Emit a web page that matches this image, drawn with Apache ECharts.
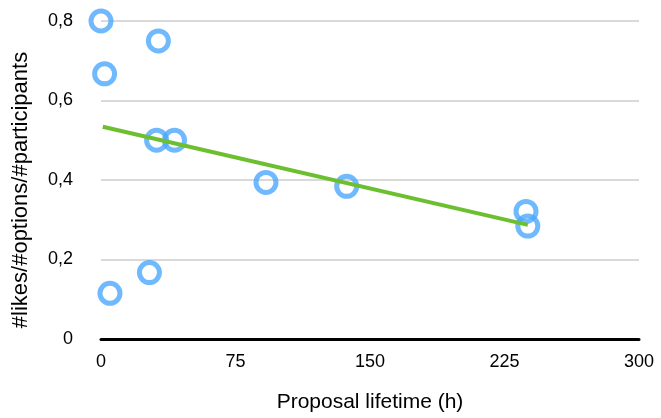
<!DOCTYPE html>
<html><head><meta charset="utf-8">
<script src="https://cdn.jsdelivr.net/npm/echarts@6/dist/echarts.min.js"></script>
<style>html,body{margin:0;padding:0;background:#fff}#c{width:661px;height:418px}</style>
</head><body><div id="c"></div>
<script>
// Data
const lifetimeHours = [0, 32, 2, 31, 41, 92, 137, 237, 238, 27, 5];
const likesRatio    = [0.8, 0.75, 0.667, 0.5, 0.5, 0.394, 0.384, 0.321, 0.284, 0.167, 0.115];
const trendX = [1, 238];
const trendY = [0.534, 0.287];
const xTicks = [0, 75, 150, 225, 300];
const yTicks = [0, 0.2, 0.4, 0.6, 0.8];

const points = lifetimeHours.map((x, i) => [x, likesRatio[i]]);
const trend = trendX.map((x, i) => [x, trendY[i]]);

const font = 'Liberation Sans, Arial, Helvetica, sans-serif';
const chart = echarts.init(document.getElementById('c'));
chart.setOption({
  animation: false,
  grid: {left: 101, right: 22, top: 21, bottom: 76},
  xAxis: {
    type: 'value', min: xTicks[0], max: xTicks[xTicks.length-1], interval: 75,
    name: 'Proposal lifetime (h)', nameLocation: 'middle', nameGap: 53,
    nameTextStyle: {fontFamily: font, fontSize: 21, color: '#000'},
    axisLine: {show: true, lineStyle: {color: '#000', width: 3}},
    axisTick: {show: false},
    splitLine: {show: false},
    axisLabel: {fontFamily: font, fontSize: 18, color: '#000', margin: 14}
  },
  yAxis: {
    type: 'value', min: yTicks[0], max: yTicks[yTicks.length-1], interval: 0.2,
    name: '#likes/#options/#participants', nameLocation: 'middle', nameGap: 69, nameRotate: 90,
    nameTextStyle: {fontFamily: font, fontSize: 22, color: '#000', padding: [0, 20, 0, 0]},
    axisLine: {show: false}, axisTick: {show: false},
    splitLine: {show: true, lineStyle: {color: '#d9d9d9', width: 2}},
    axisLabel: {fontFamily: font, fontSize: 18, color: '#000', margin: 28,
      formatter: v => v === 0 ? '0' : v.toFixed(1).replace('.', ',')}
  },
  series: [
    {type: 'scatter', data: points, symbol: 'circle', symbolSize: 20,
     itemStyle: {color: 'rgba(0,0,0,0)', borderColor: '#4ea8fc', borderWidth: 5}, z: 2},
    {type: 'line', data: trend, symbol: 'none', lineStyle: {color: '#6cbf2f', width: 4}, z: 3}
  ]
});
</script></body></html>
